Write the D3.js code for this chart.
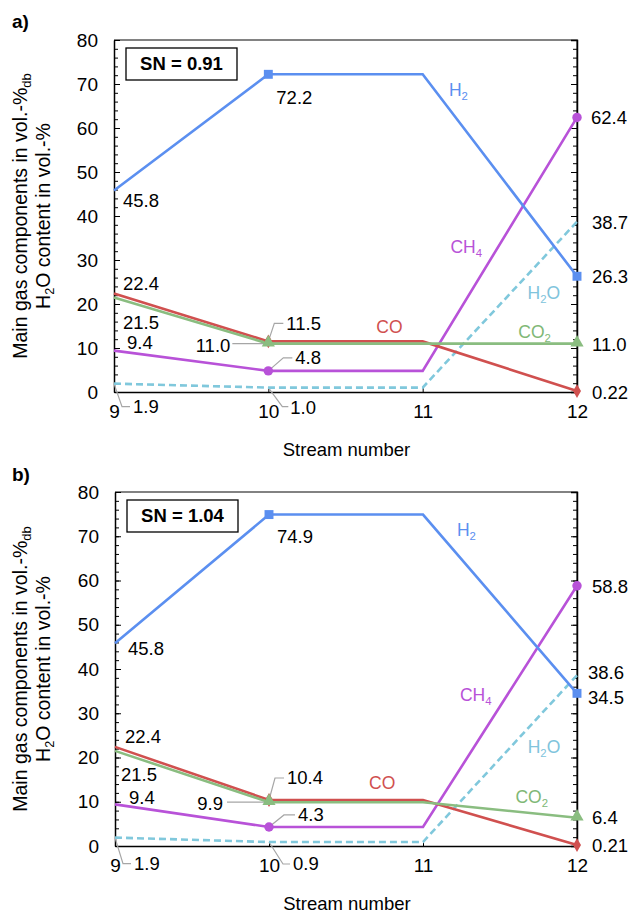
<!DOCTYPE html>
<html>
<head>
<meta charset="utf-8">
<script src="https://cdn.jsdelivr.net/npm/d3@7"></script>
<style>
  body { margin: 0; background: #fff; }
  text { font-family: "Liberation Sans", Arial, sans-serif; }
</style>
</head>
<body>
<svg id="chart" width="630" height="915"></svg>
<script>
// ---- data ----
const streams = [9, 10, 11, 12];
const yTicks = [0, 10, 20, 30, 40, 50, 60, 70, 80];
const yMinorTicks = d3.range(0, 81, 2);

const snA = "SN = 0.91";
const h2A = [45.8, 72.2, 72.2, 26.3];
const coA = [22.4, 11.5, 11.5, 0.22];
const co2A = [21.5, 11.0, 11.0, 11.0];
const ch4A = [9.4, 4.8, 4.8, 62.4];
const h2oA = [1.9, 1.0, 1.0, 38.7];

const snB = "SN = 1.04";
const h2B = [45.8, 74.9, 74.9, 34.5];
const coB = [22.4, 10.4, 10.4, 0.21];
const co2B = [21.5, 9.9, 9.9, 6.4];
const ch4B = [9.4, 4.3, 4.3, 58.8];
const h2oB = [1.9, 0.9, 0.9, 38.6];

// ---- styles ----
const styles = {
  H2:  { color: "#5b8ff0", text: "#5b8ff0", marker: d3.symbolSquare,   size: 80, name: ["H", "2", ""] },
  CO:  { color: "#d0504f", text: "#d0504f", marker: d3.symbolDiamond,  size: 55, name: ["CO", "", ""] },
  CO2: { color: "#8abd80", text: "#80b876", marker: d3.symbolTriangle, size: 75, name: ["CO", "2", ""] },
  CH4: { color: "#b852d8", text: "#b852d8", marker: d3.symbolCircle,   size: 70, name: ["CH", "4", ""] },
  H2O: { color: "#80c8dc", text: "#80c4dc", marker: null, dash: "7,4", name: ["H", "2", "O"] }
};
const drawOrder = ["H2O", "CH4", "CO", "CO2", "H2"];

// label layouts (offsets from the data point, in px)
const labelsA = [
  { k: "H2", i: 0, dx: 9, dy: 10 }, { k: "H2", i: 1, dx: 8, dy: 23 }, { k: "H2", i: 3, dx: 15, dy: 0 },
  { k: "CO", i: 0, dx: 9, dy: -10 }, { k: "CO", i: 1, dx: 18, dy: -18, lead: [[0, 0], [6, -18], [15, -18]] },
  { k: "CO", i: 3, dx: 15, dy: 1 },
  { k: "CO2", i: 0, dx: 9, dy: 25 }, { k: "CO2", i: 1, dx: -38, dy: 2, end: true, lead: [[-4, 0], [-36, 0]] },
  { k: "CO2", i: 3, dx: 15, dy: 1 },
  { k: "CH4", i: 0, dx: 13, dy: -8 }, { k: "CH4", i: 1, dx: 27, dy: -13, lead: [[0, 0], [15, -13], [24, -13]] },
  { k: "CH4", i: 3, dx: 14, dy: 0 },
  { k: "H2O", i: 0, dx: 19, dy: 23, lead: [[0, 0], [8, 23], [16, 23]] },
  { k: "H2O", i: 1, dx: 22, dy: 20, lead: [[0, 0], [14, 19], [20, 19]] },
  { k: "H2O", i: 3, dx: 15, dy: 1 }
];
const labelsB = [
  { k: "H2", i: 0, dx: 13, dy: 5 }, { k: "H2", i: 1, dx: 8, dy: 22 }, { k: "H2", i: 3, dx: 11, dy: 4 },
  { k: "CO", i: 0, dx: 10, dy: -10 }, { k: "CO", i: 1, dx: 18, dy: -22, lead: [[0, 0], [6, -22], [15, -22]] },
  { k: "CO", i: 3, dx: 15, dy: 0 },
  { k: "CO2", i: 0, dx: 6, dy: 24 }, { k: "CO2", i: 1, dx: -46, dy: 1, end: true, lead: [[-4, 0], [-42, 0]] },
  { k: "CO2", i: 3, dx: 15, dy: 0 },
  { k: "CH4", i: 0, dx: 14, dy: -7 }, { k: "CH4", i: 1, dx: 29, dy: -12, lead: [[0, 0], [15, -12], [26, -12]] },
  { k: "CH4", i: 3, dx: 15, dy: 1 },
  { k: "H2O", i: 0, dx: 19, dy: 26, lead: [[0, 0], [8, 26], [16, 26]] },
  { k: "H2O", i: 1, dx: 24, dy: 22, lead: [[0, 0], [14, 22], [21, 22]] },
  { k: "H2O", i: 3, dx: 11, dy: -3 }
];

// series name labels, placed in data units [stream, value]
const namesA = { H2: [11.17, 68.6], CH4: [11.18, 33.0], H2O: [11.68, 22.5], CO: [10.70, 14.8], CO2: [11.62, 13.6] };
const namesB = { H2: [11.22, 71.4], CH4: [11.24, 34.1], H2O: [11.68, 22.4], CO: [10.65, 14.2], CO2: [11.60, 11.1] };

const panels = [
  { tag: "a)", tagY: 28, sn: snA, top: 40, left: 114, right: 577, bottom: 392,
    data: { H2: h2A, CO: coA, CO2: co2A, CH4: ch4A, H2O: h2oA }, labels: labelsA, names: namesA },
  { tag: "b)", tagY: 481, sn: snB, top: 492, left: 115, right: 577, bottom: 846,
    data: { H2: h2B, CO: coB, CO2: co2B, CH4: ch4B, H2O: h2oB }, labels: labelsB, names: namesB }
];

const svg = d3.select("#chart");
const fmt = v => v < 0.5 ? v.toFixed(2) : v.toFixed(1);

function addName(sel, parts, size) {
  sel.append("tspan").text(parts[0]);
  if (parts[1]) sel.append("tspan").attr("font-size", size * 0.65).attr("dy", size * 0.22).text(parts[1]);
  if (parts[2]) sel.append("tspan").attr("dy", -size * 0.22).text(parts[2]);
}

panels.forEach(p => {
  const g = svg.append("g");
  const x = d3.scaleLinear().domain([9, 12]).range([p.left, p.right]);
  const y = d3.scaleLinear().domain([0, 80]).range([p.bottom, p.top]);

  // frame top / right
  g.append("path")
    .attr("d", `M${p.left},${p.top}H${p.right}V${p.bottom}`)
    .attr("fill", "none").attr("stroke", "#595959").attr("stroke-width", 1.5);

  // left axis: minor + major
  g.append("g").attr("transform", `translate(${p.left},0)`)
    .call(d3.axisLeft(y).tickValues(yMinorTicks).tickSize(-4).tickFormat(""))
    .call(a => a.select(".domain").remove());
  const ya = g.append("g").attr("transform", `translate(${p.left},0)`)
    .call(d3.axisLeft(y).tickValues(yTicks).tickSize(-6).tickPadding(16).tickSizeOuter(0));
  ya.selectAll("text").attr("font-size", 19).attr("fill", "#000").attr("font-family", null);
  ya.select(".domain").attr("stroke", "#000").attr("stroke-width", 1.5);

  // right axis ticks (inward)
  g.append("g").attr("transform", `translate(${p.right},0)`)
    .call(d3.axisRight(y).tickValues(yMinorTicks).tickSize(-4).tickFormat(""))
    .call(a => a.select(".domain").remove());
  g.append("g").attr("transform", `translate(${p.right},0)`)
    .call(d3.axisRight(y).tickValues(yTicks).tickSize(-6).tickFormat(""))
    .call(a => a.select(".domain").attr("stroke", "#000").attr("stroke-width", 1.5));

  // bottom axis
  const xa = g.append("g").attr("transform", `translate(0,${p.bottom})`)
    .call(d3.axisBottom(x).tickValues(streams).tickFormat(d3.format("d")).tickSize(-4).tickPadding(13).tickSizeOuter(0));
  xa.selectAll("text").attr("font-size", 19).attr("fill", "#000").attr("font-family", null);
  xa.select(".domain").attr("stroke", "#000").attr("stroke-width", 1.5);

  // axis titles
  g.append("text").attr("x", (p.left + p.right) / 2 + 1).attr("y", p.bottom + 64)
    .attr("text-anchor", "middle").attr("font-size", 18.5).text("Stream number");
  const cy = (p.top + p.bottom) / 2;
  const t1 = g.append("text").attr("transform", `translate(27,${cy}) rotate(-90)`)
    .attr("text-anchor", "middle").attr("font-size", 19.5);
  t1.append("tspan").text("Main gas components in vol.-%");
  t1.append("tspan").attr("font-size", 13).attr("dy", 4).text("db");
  const t2 = g.append("text").attr("transform", `translate(50,${cy}) rotate(-90)`)
    .attr("text-anchor", "middle").attr("font-size", 19.5);
  addName(t2, ["H", "2", "O content in vol.-%"], 19.5);

  // panel tag
  g.append("text").attr("x", 12).attr("y", p.tagY).attr("font-size", 19)
    .attr("font-weight", "bold").text(p.tag);

  // SN box
  g.append("rect").attr("x", p.left + 12).attr("y", p.top + 8).attr("width", 111).attr("height", 32)
    .attr("fill", "#fff").attr("stroke", "#000").attr("stroke-width", 1.3);
  g.append("text").attr("x", p.left + 67.5).attr("y", p.top + 24).attr("dy", "0.35em")
    .attr("text-anchor", "middle").attr("font-size", 18.5).attr("font-weight", "bold").text(p.sn);

  // leader lines
  const line = d3.line();
  p.labels.filter(l => l.lead).forEach(l => {
    const px = x(streams[l.i]), py = y(p.data[l.k][l.i]);
    g.append("path").attr("d", line(l.lead.map(([a, b]) => [px + a, py + b])))
      .attr("fill", "none").attr("stroke", "#a6a6a6").attr("stroke-width", 1.2);
  });

  // series lines
  const lineGen = d3.line().x((d, i) => x(streams[i])).y(d => y(d));
  drawOrder.forEach(k => {
    const s = styles[k];
    g.append("path").datum(p.data[k]).attr("d", lineGen)
      .attr("fill", "none").attr("stroke", s.color).attr("stroke-width", 2.6)
      .attr("stroke-dasharray", s.dash || null);
  });

  // markers at streams 10 and 12
  ["CO", "CH4", "CO2", "H2"].forEach(k => {
    const s = styles[k];
    [1, 3].forEach(i => {
      g.append("path").attr("d", d3.symbol(s.marker, s.size)())
        .attr("transform", `translate(${x(streams[i])},${y(p.data[k][i]) + (k === "CO2" ? -1 : 0)})`)
        .attr("fill", s.color);
    });
  });

  // value labels
  p.labels.forEach(l => {
    const v = p.data[l.k][l.i];
    g.append("text").attr("x", x(streams[l.i]) + l.dx).attr("y", y(v) + l.dy).attr("dy", "0.35em")
      .attr("text-anchor", l.end ? "end" : "start").attr("font-size", 18.5).text(fmt(v));
  });

  // series name labels
  Object.entries(p.names).forEach(([k, pos]) => {
    const t = g.append("text").attr("x", x(pos[0])).attr("y", y(pos[1])).attr("dy", "0.35em")
      .attr("font-size", 17.5).attr("fill", styles[k].text);
    addName(t, styles[k].name, 17.5);
  });
});
</script>
</body>
</html>
